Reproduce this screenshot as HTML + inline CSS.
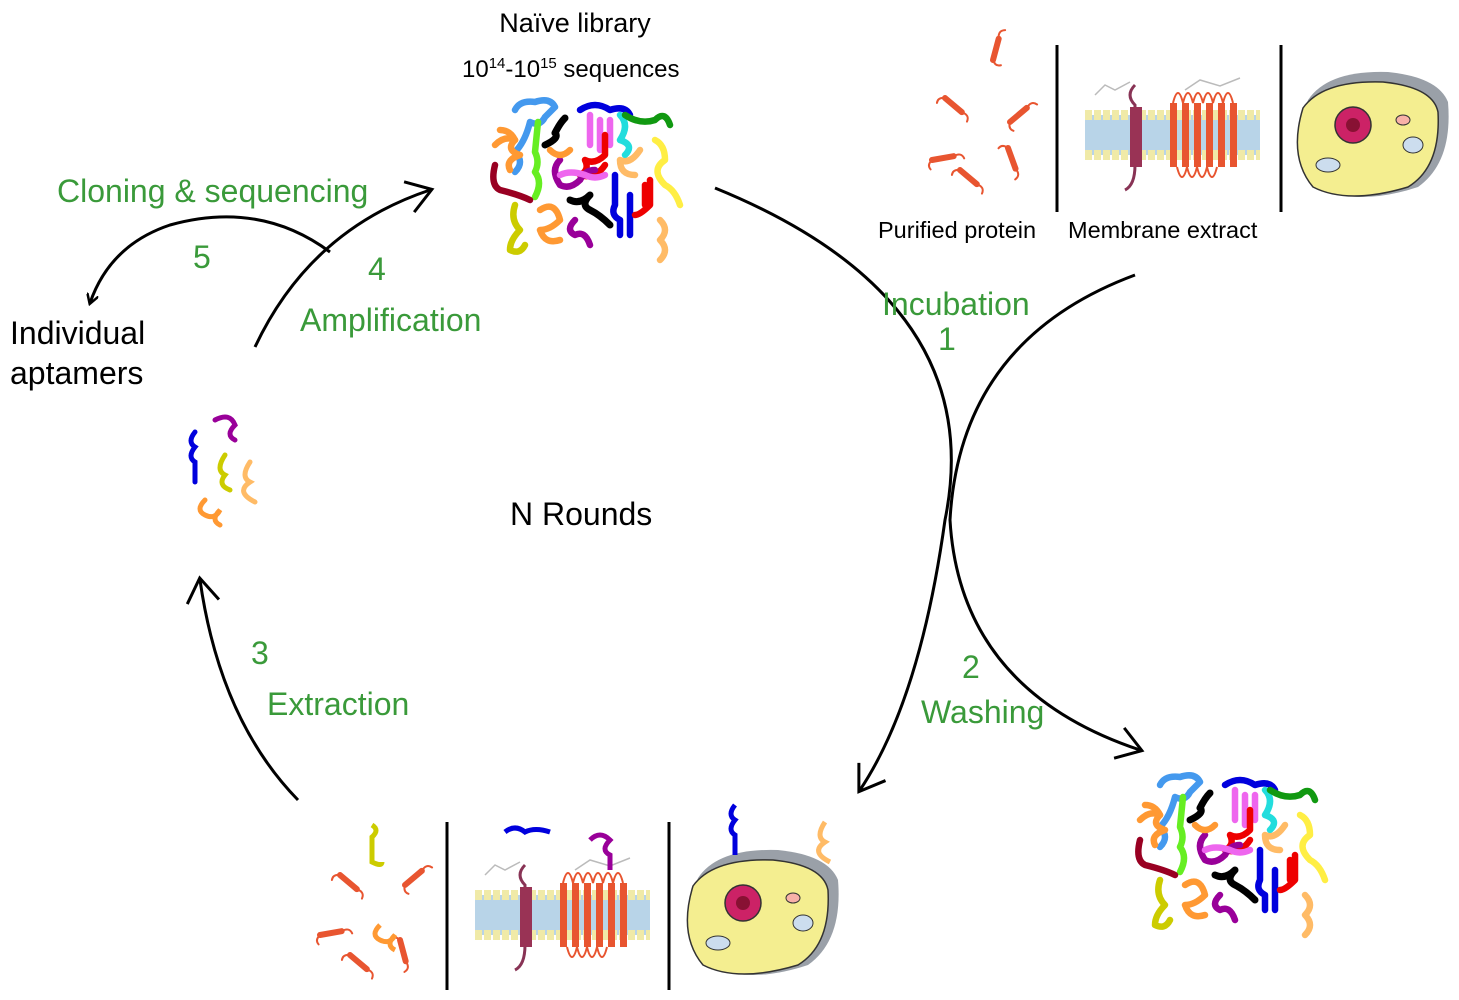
<!DOCTYPE html>
<html><head><meta charset="utf-8"><style>
html,body{margin:0;padding:0;background:#fff}
svg{display:block}
text{font-family:"Liberation Sans",sans-serif}
.g{fill:#3a9a3a}
</style></head><body>
<svg width="1459" height="1000" viewBox="0 0 1459 1000" xmlns="http://www.w3.org/2000/svg">
<defs>
<marker id="ah" markerWidth="12" markerHeight="12" refX="9" refY="6" orient="auto" markerUnits="userSpaceOnUse">
<path d="M0,0 L10,6 L0,12" fill="none" stroke="#000" stroke-width="2.5"/></marker>
<marker id="ahb" markerWidth="40" markerHeight="40" refX="30" refY="20" orient="auto" markerUnits="userSpaceOnUse">
<path d="M8,4 L32,20 L8,36" fill="none" stroke="#000" stroke-width="3"/></marker>
<g id="lib" fill="none" stroke-width="6.5" stroke-linecap="round" stroke-linejoin="round">
<path d="M35,20 q5,-10 20,-8 q15,-5 20,5 l-10,10 q-5,10 -15,5 q-5,20 -15,30 q10,10 0,20" stroke="#4499ee"/>
<path d="M15,55 q10,-10 20,-5 q-10,10 5,15 q-15,5 -10,15" stroke="#ff9933"/>
<path d="M58,32 l-3,30 q5,10 0,20 q8,10 0,25" stroke="#66ee22"/>
<path d="M85,28 q-5,5 -10,15 q5,5 -10,12" stroke="#000" stroke-width="7"/>
<path d="M100,20 q15,-10 30,0 q15,-5 20,5" stroke="#0000dd"/>
<path d="M110,25 l0,30 m10,-25 l0,30 m10,-30 l0,25" stroke="#ee66ee"/>
<path d="M140,25 q10,10 0,25 q15,5 5,15" stroke="#22dddd"/>
<path d="M145,25 q15,10 30,5 q10,-10 15,5" stroke="#119911"/>
<path d="M125,45 l0,20 q-10,10 -20,5 q5,10 -5,15 q15,5 25,-10" stroke="#ee0000"/>
<path d="M80,70 q-10,10 0,25 q10,5 20,-5 q5,-10 15,-10" stroke="#990099"/>
<path d="M15,75 q-5,20 5,25 q20,5 30,10" stroke="#990022"/>
<path d="M175,50 q10,5 10,20 q-15,10 0,25 q10,5 15,20" stroke="#ffee44"/>
<path d="M160,60 q-10,15 -20,10 q0,15 15,15" stroke="#ffbb66"/>
<path d="M135,85 l0,30 q-5,10 5,15 l0,15 m10,-40 l0,40" stroke="#0000dd"/>
<path d="M170,90 l0,25 q-10,10 -15,10 m10,-30 l0,20" stroke="#ee0000"/>
<path d="M35,115 q-5,15 5,25 q-10,10 -10,20 q10,5 15,-5" stroke="#cccc00"/>
<path d="M60,120 q15,-10 20,10 q-10,10 -20,10 q5,15 20,10" stroke="#ff9933"/>
<path d="M90,110 q10,5 20,-5 q-10,10 0,15 q10,5 20,15" stroke="#000" stroke-width="7"/>
<path d="M95,130 q-10,10 0,15 q10,-5 15,10" stroke="#990099"/>
<path d="M180,130 q10,10 0,20 q10,10 0,20" stroke="#ffbb66"/>
<path d="M80,85 q10,-5 25,0 q10,5 20,0" stroke="#ee66ee"/>
<path d="M20,40 q10,0 15,10 M70,60 q10,10 20,0" stroke="#ff9933"/>
</g>
<g id="prot" fill="none" stroke-linecap="round">
<path d="M0,0 l22,0" stroke="#e85530" stroke-width="6"/>
<path d="M22,0 q8,-3 10,4 M0,0 q-6,4 -3,9" stroke="#e85530" stroke-width="2"/>
</g>
<g id="mem">
<rect x="0" y="20" width="175" height="40" fill="#b8d4e8"/>
<path d="M0,20 h175 M0,60 h175" stroke="#f0eaa8" stroke-width="10" stroke-dasharray="7 2"/>
<path d="M50,-10 q-10,10 0,20 l0,60 q0,20 -10,25" fill="none" stroke="#883355" stroke-width="3"/>
<rect x="45" y="12" width="12" height="60" fill="#993355"/>
<g fill="#e85530">
<rect x="85" y="8" width="7" height="64"/><rect x="97" y="8" width="7" height="64"/><rect x="109" y="8" width="7" height="64"/><rect x="121" y="8" width="7" height="64"/><rect x="133" y="8" width="7" height="64"/><rect x="145" y="8" width="7" height="64"/>
</g>
<path d="M88,8 q5,-20 10,0 q5,-20 10,0 q5,-20 10,0 q5,-20 10,0 q5,-20 10,0 q5,-20 10,0 M92,72 q5,20 10,0 q5,20 10,0 q5,20 10,0 q5,20 10,0" fill="none" stroke="#e85530" stroke-width="2"/>
<path d="M10,0 l10,-10 l10,5 l15,-8 M100,-5 l15,-10 l20,6 l20,-8" fill="none" stroke="#bbb" stroke-width="1.5"/>
</g>
<g id="cell">
<path d="M10,30 q20,-30 80,-28 q50,5 60,30 q5,60 -30,85 q-60,20 -100,0 q-30,-30 -10,-87z" fill="#9aa0a8"/>
<path d="M5,38 q20,-28 80,-26 q50,5 55,30 q3,55 -30,75 q-60,18 -95,0 q-25,-30 -10,-79z" fill="#f4ee90" stroke="#333" stroke-width="1.5"/>
<circle cx="55" cy="55" r="18" fill="#cc2266" stroke="#333" stroke-width="1.5"/>
<circle cx="55" cy="55" r="7" fill="#881133"/>
<ellipse cx="30" cy="95" rx="12" ry="7" fill="#cde" stroke="#333"/>
<ellipse cx="115" cy="75" rx="10" ry="8" fill="#cde" stroke="#333"/>
<ellipse cx="105" cy="50" rx="7" ry="5" fill="#f5c" fill-opacity=".4" stroke="#333"/>
</g>
</defs>

<text x="575" y="32" font-size="27" text-anchor="middle">Naïve library</text>
<text x="462" y="77" font-size="24">10<tspan dy="-9" font-size="15">14</tspan><tspan dy="9">-10</tspan><tspan dy="-9" font-size="15">15</tspan><tspan dy="9"> sequences</tspan></text>
<use href="#lib" x="480" y="90"/>
<use href="#lib" x="1125" y="765"/>

<use href="#prot" transform="translate(993,60) rotate(-75)"/>
<use href="#prot" transform="translate(1010,122) rotate(-40)"/>
<use href="#prot" transform="translate(945,98) rotate(40)"/>
<use href="#prot" transform="translate(932,160) rotate(-10)"/>
<use href="#prot" transform="translate(960,170) rotate(40)"/>
<use href="#prot" transform="translate(1008,148) rotate(70)"/>
<line x1="1057" y1="45" x2="1057" y2="212" stroke="#000" stroke-width="3"/>
<line x1="1281" y1="45" x2="1281" y2="212" stroke="#000" stroke-width="3"/>
<use href="#mem" x="1085" y="95"/>
<use href="#cell" x="1298" y="70"/>
<text x="878" y="238" font-size="23.5">Purified protein</text>
<text x="1068" y="238" font-size="23.5">Membrane extract</text>

<use href="#prot" transform="translate(340,875) rotate(40)"/>
<use href="#prot" transform="translate(405,885) rotate(-40)"/>
<use href="#prot" transform="translate(320,935) rotate(-10)"/>
<use href="#prot" transform="translate(350,955) rotate(40)"/>
<use href="#prot" transform="translate(400,940) rotate(75)"/>
<path d="M372,825 q8,5 0,12 l0,25 q10,5 10,0" fill="none" stroke="#cccc00" stroke-width="5"/>
<path d="M380,925 q-10,10 0,15 q10,5 15,-5 q-10,10 0,15" fill="none" stroke="#ff9933" stroke-width="5"/>
<line x1="447" y1="822" x2="447" y2="990" stroke="#000" stroke-width="3"/>
<line x1="669" y1="822" x2="669" y2="990" stroke="#000" stroke-width="3"/>
<use href="#mem" x="475" y="875"/>
<path d="M505,832 q10,-8 20,0 q10,-5 25,0" fill="none" stroke="#0000dd" stroke-width="5"/>
<path d="M590,840 q10,-10 20,0 q-10,10 0,15 l0,15" fill="none" stroke="#990099" stroke-width="5"/>
<use href="#cell" x="688" y="848"/>
<path d="M735,805 q-8,10 0,15 q-8,10 0,15 l0,20" fill="none" stroke="#0000dd" stroke-width="5"/>
<path d="M825,822 q-10,15 0,20 q-15,10 5,20" fill="none" stroke="#ffbb66" stroke-width="5"/>

<g fill="none" stroke-width="5" stroke-linecap="round">
<path d="M195,432 q-8,10 0,15 q-8,10 0,15 l0,20" stroke="#0000dd"/>
<path d="M215,420 q15,-8 20,5 q-10,10 0,15" stroke="#990099"/>
<path d="M225,455 q-10,15 0,20 q-8,10 5,15" stroke="#cccc00"/>
<path d="M250,462 q-10,15 0,20 q-15,10 5,20" stroke="#ffbb66"/>
<path d="M205,500 q-10,10 0,15 q10,5 15,-5 q-10,10 0,15" stroke="#ff9933"/>
</g>

<g fill="none" stroke="#000" stroke-width="3">
<path d="M715,188 Q990,300 945,520 Q920,700 860,790" marker-end="url(#ahb)"/>
<path d="M1135,275 Q960,340 950,520 Q960,690 1140,750" marker-end="url(#ahb)"/>
<path d="M298,800 Q220,720 200,580" marker-end="url(#ahb)"/>
<path d="M255,347 Q310,230 430,190" marker-end="url(#ahb)"/>
<path d="M330,252 Q260,200 170,225 Q110,245 90,303" marker-end="url(#ah)"/>
</g>

<g font-size="32">
<text class="g" x="57" y="202">Cloning &amp; sequencing</text>
<text class="g" x="193" y="268">5</text>
<text class="g" x="368" y="280">4</text>
<text class="g" x="300" y="331">Amplification</text>
<text class="g" x="882" y="315">Incubation</text>
<text class="g" x="938" y="350">1</text>
<text class="g" x="962" y="678">2</text>
<text class="g" x="921" y="723">Washing</text>
<text class="g" x="251" y="664">3</text>
<text class="g" x="267" y="715">Extraction</text>
<text x="10" y="344">Individual</text>
<text x="10" y="384">aptamers</text>
<text x="510" y="525">N Rounds</text>
</g>
</svg>
</body></html>
